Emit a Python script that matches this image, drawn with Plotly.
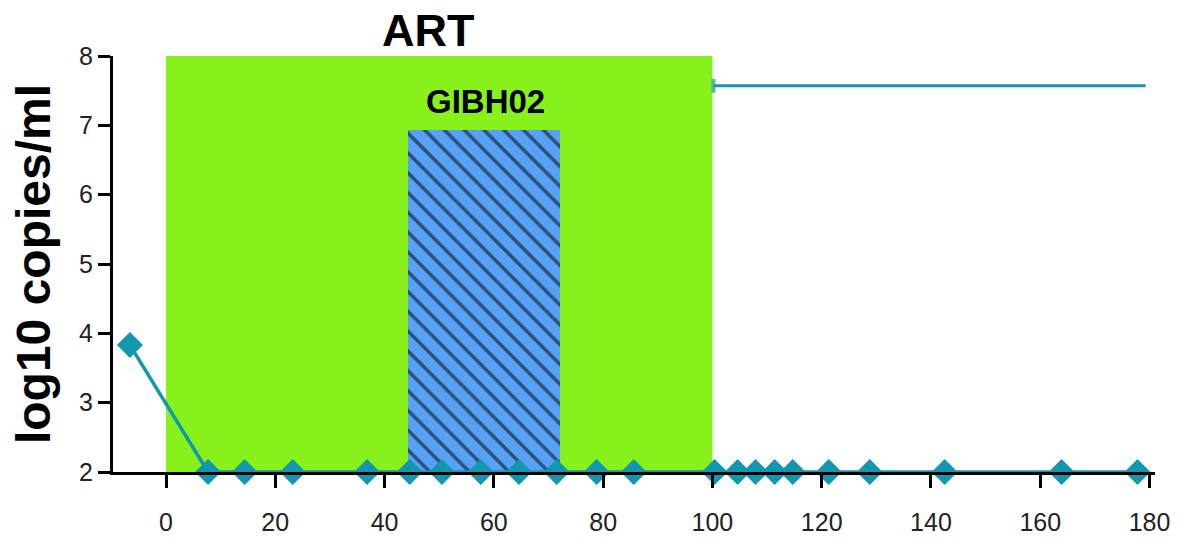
import plotly.graph_objects as go

# Data
days = [-6.6, 7.7, 14.4, 23.2, 36.8, 44.6, 50.5, 57.6, 64.6, 71.5, 78.8, 85.6,
        100.4, 104.6, 107.9, 111.4, 114.7, 121.3, 128.8, 142.5, 163.9, 177.8]
vl = [3.83, 2, 2, 2, 2, 2, 2, 2, 2, 2, 2, 2, 2, 2, 2, 2, 2, 2, 2, 2, 2, 2]
art_period = [0, 100]
gibh_period = [44.3, 72.1]
gibh_top = 6.93
top_line_x = [100.2, 179.3]
top_line_y = [7.57, 7.57]
x_ticks = [0, 20, 40, 60, 80, 100, 120, 140, 160, 180]
y_ticks = [2, 3, 4, 5, 6, 7, 8]

TEAL = "#1297AE"
GREEN = "#88F11C"
BLUE = "#57A2F7"

fig = go.Figure()

# ART green band
fig.add_shape(type="rect", x0=art_period[0], x1=art_period[1], y0=2, y1=8,
              fillcolor=GREEN, line_width=0, layer="below")

# GIBH02 hatched bar
fig.add_trace(go.Bar(
    x=[(gibh_period[0] + gibh_period[1]) / 2], y=[gibh_top - 2], base=[2],
    width=[gibh_period[1] - gibh_period[0]],
    marker=dict(color=BLUE, line_width=0,
                pattern=dict(shape="\\", fgcolor="black", bgcolor=BLUE,
                             size=14, solidity=0.25)),
    showlegend=False, hoverinfo="skip"))

# Top-right line with cap
fig.add_trace(go.Scatter(
    x=top_line_x, y=top_line_y, mode="lines+markers",
    line=dict(color=TEAL, width=3),
    marker=dict(symbol="line-ns", size=[10, 0], line=dict(color=TEAL, width=4)),
    showlegend=False, cliponaxis=False))

# Viral load series
fig.add_trace(go.Scatter(
    x=days, y=vl, mode="lines+markers",
    line=dict(color=TEAL, width=3.5),
    marker=dict(symbol="diamond", size=20, color=TEAL),
    showlegend=False, cliponaxis=False))

fig.add_annotation(x=47.9, y=1.0625, xref="x", yref="paper", text="<b>ART</b>",
                   showarrow=False, font=dict(size=45, color="black",
                                              family="Liberation Sans"),
                   yanchor="middle")
fig.add_annotation(x=58.5, y=7.34, xref="x", yref="y", text="<b>GIBH02</b>",
                   showarrow=False, font=dict(size=33, color="black",
                                              family="Liberation Sans"))

fig.update_layout(
    width=1183, height=540,
    margin=dict(l=113, r=28, t=56, b=68),
    plot_bgcolor="white", paper_bgcolor="white",
    font=dict(family="Liberation Sans", size=25, color="#222222"),
    bargap=0,
)
fig.update_xaxes(range=[-9.7, 181], tickvals=x_ticks, showgrid=False,
                 zeroline=False, showline=True, linecolor="black", linewidth=3,
                 ticks="outside", ticklen=13, tickwidth=2.5, tickcolor="black",
                 ticklabelstandoff=13, tickfont=dict(size=25), automargin=False)
fig.update_yaxes(range=[2, 8], tickvals=y_ticks, showgrid=False,
                 zeroline=False, showline=True, linecolor="black", linewidth=3,
                 ticks="outside", ticklen=12, tickwidth=2.5, tickcolor="black",
                 tickfont=dict(size=25), automargin=False,
                 title=dict(text="<b>log10 copies/ml</b>",
                            font=dict(size=48, color="black"), standoff=14))

fig.write_html("out.html", config={"displayModeBar": False},
               post_script="document.body.style.margin='0';document.body.style.padding='0';")
